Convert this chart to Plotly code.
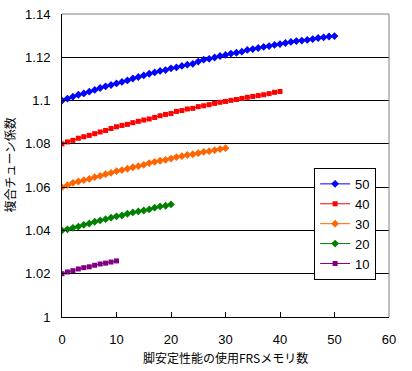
import plotly.graph_objects as go

series_names = ["50", "40", "30", "20", "10"]
s50 = [1.1000, 1.1009, 1.1018, 1.1027, 1.1033, 1.1041, 1.1049, 1.1058, 1.1066, 1.1072,
       1.1079, 1.1086, 1.1093, 1.1102, 1.1109, 1.1116, 1.1124, 1.1130, 1.1137, 1.1141,
       1.1149, 1.1153, 1.1160, 1.1166, 1.1170, 1.1180, 1.1189, 1.1193, 1.1199, 1.1206,
       1.1211, 1.1217, 1.1221, 1.1226, 1.1234, 1.1238, 1.1243, 1.1248, 1.1252, 1.1257,
       1.1261, 1.1266, 1.1271, 1.1275, 1.1277, 1.1280, 1.1284, 1.1289, 1.1292, 1.1296,
       1.1298]
s40 = [1.0800, 1.0809, 1.0816, 1.0826, 1.0833, 1.0839, 1.0847, 1.0855, 1.0862, 1.0871,
       1.0879, 1.0885, 1.0890, 1.0898, 1.0904, 1.0910, 1.0915, 1.0922, 1.0930, 1.0936,
       1.0940, 1.0950, 1.0954, 1.0961, 1.0964, 1.0972, 1.0976, 1.0981, 1.0987, 1.0992,
       1.0996, 1.1001, 1.1005, 1.1010, 1.1015, 1.1019, 1.1023, 1.1027, 1.1032, 1.1038,
       1.1042]
s30 = [1.0600, 1.0609, 1.0620, 1.0626, 1.0632, 1.0638, 1.0646, 1.0652, 1.0660, 1.0666,
       1.0674, 1.0679, 1.0685, 1.0692, 1.0697, 1.0703, 1.0711, 1.0717, 1.0722, 1.0726,
       1.0732, 1.0739, 1.0743, 1.0749, 1.0752, 1.0757, 1.0763, 1.0766, 1.0771, 1.0776,
       1.0780]
s20 = [1.0400, 1.0405, 1.0412, 1.0418, 1.0426, 1.0432, 1.0440, 1.0446, 1.0452, 1.0459,
       1.0465, 1.0469, 1.0477, 1.0483, 1.0488, 1.0492, 1.0497, 1.0505, 1.0511, 1.0514,
       1.0520]
s10 = [1.0200, 1.0208, 1.0214, 1.0222, 1.0228, 1.0232, 1.0239, 1.0245, 1.0249, 1.0254,
       1.0259]
series_values = [s50, s40, s30, s20, s10]
colors = ["#0000FF", "#FF0000", "#FF6600", "#008000", "#800080"]
symbols = ["diamond", "square", "diamond", "diamond", "square"]
msizes = [6, 5, 6, 6, 5]

y_ticks = [1.0, 1.02, 1.04, 1.06, 1.08, 1.10, 1.12, 1.14]
y_ticklabels = ["1", "1.02", "1.04", "1.06", "1.08", "1.1", "1.12", "1.14"]
x_ticks = [0, 10, 20, 30, 40, 50, 60]

x_title = "脚安定性能の使用FRSメモリ数"
y_title = "複合チューン係数"

FONT = "Liberation Sans, Noto Sans CJK JP, sans-serif"
CJK = "Noto Sans CJK JP"

fig = go.Figure()
for name, vals, c, sym, ms in zip(series_names, series_values, colors, symbols, msizes):
    fig.add_trace(go.Scatter(
        x=list(range(len(vals))), y=vals, name=name, mode="lines+markers",
        line=dict(color=c, width=1),
        marker=dict(color=c, symbol=sym, size=ms, line=dict(width=0)),
    ))

fig.update_layout(
    width=412, height=371,
    margin=dict(l=62, r=23, t=14, b=54),
    paper_bgcolor="white", plot_bgcolor="white",
    font=dict(family=FONT, size=13, color="black"),
    showlegend=True,
    legend=dict(
        x=0.771, y=0.492, xanchor="left", yanchor="top",
        bgcolor="white", bordercolor="black", borderwidth=1,
        font=dict(size=13, family=FONT), tracegroupgap=0, itemwidth=30,
    ),
    xaxis=dict(
        range=[0, 60], tickvals=x_ticks, showgrid=False, zeroline=False,
        showline=True, linecolor="black", linewidth=1,
        ticks="inside", ticklen=5, tickcolor="black",
        tickfont=dict(size=13), fixedrange=True, automargin=False,
        ticklabelstandoff=10,
    ),
    yaxis=dict(
        range=[1.0, 1.14], tickvals=y_ticks, ticktext=y_ticklabels,
        showgrid=True, gridcolor="black", gridwidth=1, zeroline=False,
        showline=True, linecolor="black", linewidth=1,
        ticks="inside", ticklen=5, tickcolor="black",
        tickfont=dict(size=13), fixedrange=True, automargin=False,
        ticklabelstandoff=8,
    ),
    shapes=[
        dict(type="line", xref="paper", yref="paper", x0=0, x1=1, y0=1, y1=1,
             line=dict(color="#808080", width=1), layer="above"),
        dict(type="line", xref="paper", yref="paper", x0=1, x1=1, y0=0, y1=1,
             line=dict(color="#808080", width=1), layer="above"),
    ],
    annotations=[
        dict(text=x_title, xref="paper", yref="paper", x=0.5, y=-0.135,
             xanchor="center", yanchor="middle", showarrow=False,
             font=dict(size=12, family=CJK)),
        dict(text=y_title, xref="paper", yref="paper", x=-0.162, y=0.5,
             xanchor="center", yanchor="middle", showarrow=False, textangle=-90,
             font=dict(size=12, family=CJK)),
    ],
)

fig.write_html(
    "out.html",
    config={"displayModeBar": False},
    post_script="document.body.style.margin='0';document.body.style.overflow='hidden';",
)
